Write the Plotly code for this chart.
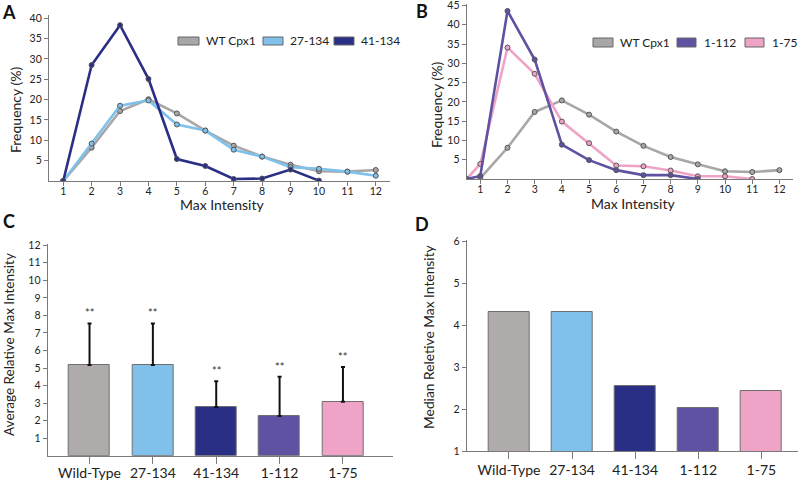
import plotly.graph_objects as go

# ---------------- data ----------------
# Panel A
x_a = [1, 2, 3, 4, 5, 6, 7, 8, 9, 10, 11, 12]
wt_a = [0, 8.2, 17.2, 20.1, 16.6, 12.4, 8.7, 6.0, 4.0, 2.4, 2.3, 2.7]
c27_a = [0, 9.2, 18.5, 19.8, 13.9, 12.4, 7.7, 6.0, 3.4, 3.0, 2.3, 1.3]
x_a41 = [1, 2, 3, 4, 5, 6, 7, 8, 9, 10]
c41_a = [0, 28.5, 38.3, 25.1, 5.4, 3.7, 0.5, 0.6, 2.8, 0.1]

# Panel B
x_b = [1, 2, 3, 4, 5, 6, 7, 8, 9, 10, 11, 12]
wt_b = [0.2, 8.1, 17.4, 20.4, 16.7, 12.3, 8.6, 5.7, 3.8, 2.0, 1.8, 2.3]
x_b112 = [0.5, 1, 2, 3, 4, 5, 6, 7, 8, 9]
c112_b = [0, 0.8, 43.6, 31.0, 8.9, 4.9, 2.3, 1.0, 1.0, 0]
x_b75 = [0.5, 1, 2, 3, 4, 5, 6, 7, 8, 9, 10, 11]
c75_b = [0, 3.9, 34.1, 27.3, 14.9, 9.3, 3.5, 3.3, 2.2, 0.7, 0.7, 0]

# Panels C and D
cats = ["Wild-Type", "27-134", "41-134", "1-112", "1-75"]
avg_c = [5.17, 5.17, 2.77, 2.27, 3.08]
err_c = [2.37, 2.37, 1.47, 2.23, 1.98]
sig_c = ["**", "**", "**", "**", "**"]
median_d = [4.33, 4.33, 2.56, 2.02, 2.44]

tick_a = list(range(1, 13))
ytick_a = [5, 10, 15, 20, 25, 30, 35, 40]
ytick_b = [5, 10, 15, 20, 25, 30, 35, 40, 45]
ytick_c = list(range(1, 13))
ytick_d = [1, 2, 3, 4, 5, 6]

# ---------------- style ----------------
GRAY = "#b0abab"
LBLUE = "#7fc1ea"
NAVY = "#2a2f86"
PURPLE = "#5f52a3"
PINK = "#eea3c7"
LINE_GRAY = "#a8a6a6"
AX = "#7a7a7a"
FONT = "Lato"
TXT = "#222222"

W, H = 800, 481


def px(x):
    return x / W


def py(y):
    return 1 - y / H


fig = go.Figure()


def line_trace(x, y, color, name, xa, ya):
    return go.Scatter(
        x=x, y=y, mode="lines+markers", name=name,
        line=dict(color=color, width=2.6),
        marker=dict(symbol="circle", size=5, color=color,
                    line=dict(color="#555555", width=1)),
        xaxis=xa, yaxis=ya, showlegend=False,
    )


fig.add_trace(line_trace(x_a, wt_a, LINE_GRAY, "WT Cpx1", "x", "y"))
fig.add_trace(line_trace(x_a, c27_a, LBLUE, "27-134", "x", "y"))
fig.add_trace(line_trace(x_a41, c41_a, NAVY, "41-134", "x", "y"))

fig.add_trace(line_trace(x_b, wt_b, LINE_GRAY, "WT Cpx1", "x2", "y2"))
fig.add_trace(line_trace(x_b75, c75_b, PINK, "1-75", "x2", "y2"))
fig.add_trace(line_trace(x_b112, c112_b, PURPLE, "1-112", "x2", "y2"))

bar_colors = [GRAY, LBLUE, NAVY, PURPLE, PINK]

fig.add_trace(go.Bar(
    x=cats, y=avg_c, width=0.65,
    marker=dict(color=bar_colors, line=dict(color="#6e6e6e", width=1)),
    error_y=dict(type="data", symmetric=False, array=err_c,
                 arrayminus=[0] * len(err_c), color="#111111",
                 thickness=2, width=2),
    xaxis="x3", yaxis="y3", showlegend=False,
))

fig.add_trace(go.Bar(
    x=cats, y=median_d, width=0.655,
    marker=dict(color=bar_colors, line=dict(color="#6e6e6e", width=1)),
    xaxis="x4", yaxis="y4", showlegend=False,
))

tickfont = dict(family=FONT, size=10.5, color=TXT)
common_axis = dict(showline=True, linecolor=AX, linewidth=1.2, showgrid=False,
                   zeroline=False, ticks="outside", tickcolor=AX, ticklen=4,
                   tickwidth=1, tickfont=tickfont, fixedrange=True, automargin=False,
                   ticklabeloverflow="allow")
cat_font = dict(family=FONT, size=14, color=TXT)

fig.update_layout(
    width=W, height=H,
    margin=dict(l=0, r=0, t=0, b=0, autoexpand=False),
    paper_bgcolor="white", plot_bgcolor="white",
    font=dict(family=FONT, color=TXT),
    bargap=0,
    xaxis=dict(domain=[px(49), px(390)], range=[0.5, 12.5],
               tickvals=tick_a, anchor="y", ticklabelstandoff=-4, **common_axis),
    yaxis=dict(domain=[py(181), py(15)], range=[0, 40.8],
               tickvals=ytick_a, anchor="x", **common_axis),
    xaxis2=dict(domain=[px(466.7), px(793)], range=[0.5, 12.5],
                tickvals=tick_a, anchor="y2", ticklabelstandoff=-4, **common_axis),
    yaxis2=dict(domain=[py(179), py(4)], range=[0, 45.4],
                tickvals=ytick_b, anchor="x2", **common_axis),
    xaxis3=dict(domain=[px(47.7), px(393)], range=[-0.66, 4.79],
                type="category", anchor="y3", ticklabelstandoff=-3,
                **{**common_axis, "ticklen": 7, "tickfont": cat_font}),
    yaxis3=dict(domain=[py(455.7), py(244)], range=[0, 12.07],
                tickvals=ytick_c, anchor="x3", **common_axis),
    xaxis4=dict(domain=[px(466.7), px(798)], range=[-0.67, 4.58],
                type="category", anchor="y4", ticklabelstandoff=-1,
                **{**common_axis, "ticklen": 7, "tickfont": cat_font}),
    yaxis4=dict(domain=[py(451), py(240)], range=[1, 6.04],
                tickvals=ytick_d, anchor="x4", **common_axis),
)

annotations = []
shapes = []

# panel letters
for letter, cx, cy in [("A", 9, 12.5), ("B", 422.5, 11), ("C", 9, 221.5), ("D", 422.5, 223.5)]:
    annotations.append(dict(text="<b>%s</b>" % letter, x=px(cx), y=py(cy), xref="paper",
                            yref="paper", showarrow=False, xanchor="center", yanchor="middle",
                            font=dict(family=FONT, size=18, color="#111111")))

# axis titles
for text, cx, cy, ang, fs in [
    ("Frequency (%)", 15, 110, -90, 14),
    ("Max Intensity", 222, 205, 0, 14),
    ("Frequency (%)", 437, 105, -90, 14),
    ("Max Intensity", 633, 203, 0, 14),
    ("Average Relative Max Intensity", 9, 345, -90, 13.5),
    ("Median Reletive Max Intensity", 428, 337, -90, 13.8),
]:
    annotations.append(dict(text=text, x=px(cx), y=py(cy), xref="paper", yref="paper",
                            showarrow=False, xanchor="center", yanchor="middle",
                            textangle=ang, font=dict(family=FONT, size=fs, color=TXT)))

# significance marks
for c, v, e, s in zip(cats, avg_c, err_c, sig_c):
    annotations.append(dict(text=s, x=c, y=v + e, xref="x3", yref="y3", showarrow=False,
                            yanchor="bottom", yshift=2,
                            font=dict(family=FONT, size=11, color="#333333")))

# manual legends (box swatches)
legend_items = [
    ("WT Cpx1", LINE_GRAY, 178, 199, 37, 45, 204),
    ("27-134", LBLUE, 263, 283, 37, 45, 288),
    ("41-134", NAVY, 334, 354, 37, 45, 359),
    ("WT Cpx1", LINE_GRAY, 593, 613, 38, 47, 618),
    ("1-112", PURPLE, 677, 696, 38, 47, 702),
    ("1-75", PINK, 745, 764, 38, 47, 770),
]
for name, col, x0, x1, y0, y1, tx in legend_items:
    shapes.append(dict(type="rect", xref="paper", yref="paper",
                       x0=px(x0), x1=px(x1), y0=py(y1), y1=py(y0),
                       fillcolor=col, line=dict(color="#666666", width=1)))
    annotations.append(dict(text=name, x=px(tx), y=py((y0 + y1) / 2), xref="paper",
                            yref="paper", showarrow=False, xanchor="left",
                            yanchor="middle", font=dict(family=FONT, size=12, color=TXT)))

fig.update_layout(annotations=annotations, shapes=shapes)

fig.write_html("out.html", config={"displayModeBar": False},
               post_script="document.body.style.margin='0';document.body.style.overflow='hidden';")
